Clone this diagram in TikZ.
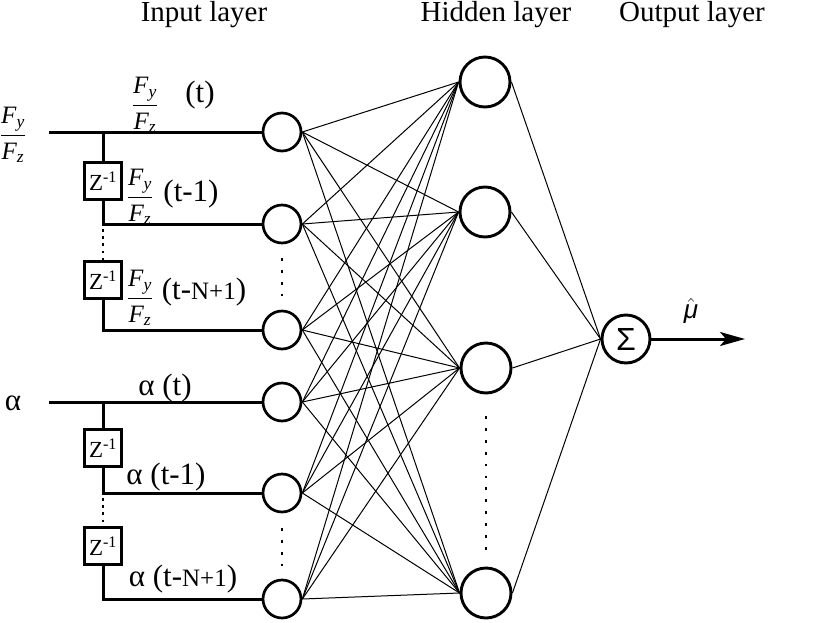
\RequirePackage{fix-cm}
\documentclass[tikz,border=0pt]{standalone}
\usepackage{fontspec}
\usepackage{amsmath}
\setmainfont{Liberation Serif}
\newfontfamily\sansf{Liberation Sans}
\usetikzlibrary{arrows.meta}
\newcommand{\fyfz}{$\genfrac{}{}{1.3pt}{0}{\text{\itshape F}_{\text{\itshape y}}}{\text{\itshape F}_{\text{\itshape z}}}$}
\begin{document}
\begin{tikzpicture}[x=1pt,y=-1pt,
  inp/.style={circle,draw,line width=2.7pt,minimum size=38pt,inner sep=0pt},
  hid/.style={circle,draw,line width=2.9pt,minimum size=50pt,inner sep=0pt},
  outn/.style={circle,draw,line width=2.9pt,minimum size=48pt,inner sep=0pt,font=\sansf\fontsize{32}{32}\selectfont},
  delay/.style={draw,line width=2.5pt,minimum size=37pt,inner sep=0pt,font=\fontsize{23}{23}\selectfont},
  wire/.style={line width=3pt,line join=miter},
  syn/.style={line width=1pt},
  dotl/.style={line width=2.8pt,dash pattern=on 2.8pt off 9.2pt},
  sdot/.style={line width=2.8pt,dash pattern=on 2.8pt off 4.4pt},
  head/.style={font=\fontsize{29}{29}\selectfont,inner sep=0pt},
  lab/.style={font=\fontsize{31}{31}\selectfont,inner sep=0pt},
  frac/.style={font=\fontsize{25}{25}\selectfont,inner sep=0pt},
]
\useasboundingbox (0,0) rectangle (831,622);
% headers
\node[head] (hin) at (204,15) {Input layer};
\node[head] (hhid) at (496,15) {Hidden layer};
\node[head] (hout) at (692,15) {Output layer};
% input nodes
\node[inp] (i1) at (282,132) {};
\node[inp] (i2) at (282,224) {};
\node[inp] (i3) at (282,330) {};
\node[inp] (i4) at (282,402) {};
\node[inp] (i5) at (282,493) {};
\node[inp] (i6) at (282,599) {};
% hidden nodes
\node[hid] (h1) at (485,82) {};
\node[hid] (h2) at (485,212) {};
\node[hid] (h3) at (486,368) {};
\node[hid] (h4) at (486,593) {};
% output
\node[outn] (o) at (626,339) {Σ};
\coordinate (oend) at (745,339);
\node[font=\fontsize{26}{26}\selectfont,inner sep=0pt] (mu) at (691,311) {$\hat{\text{\sansf\itshape μ}}$};
% synapses
\foreach \i in {1,...,6}
  \foreach \h in {1,...,4}
    \draw[syn] (i\i.east) -- (h\h.west);
\foreach \h in {1,...,4}
  \draw[syn] (h\h.east) -- (o.west);
\draw[wire,-{Stealth[length=25pt,width=14pt,inset=6pt]}] (o.east) -- (oend);
% dots
\coordinate (da1) at (282,258); \coordinate (da2) at (282,296);
\coordinate (db1) at (282,528); \coordinate (db2) at (282,566);
\coordinate (dh1) at (486,416); \coordinate (dh2) at (486,550);
\draw[dotl] (da1) -- (da2);
\draw[dotl] (db1) -- (db2);
\draw[dotl,dash pattern=on 2.8pt off 9.1pt] (dh1) -- (dh2);
% Fy/Fz branch
\node[frac] (lf) at (13,135) {\fyfz};
\coordinate (s1) at (49,132);
\coordinate (j1) at (103,132);
\node[delay] (z1) at (103,181) {Z\textsuperscript{-1}};
\coordinate (j2) at (103,224);
\node[delay] (z2) at (103,280) {Z\textsuperscript{-1}};
\coordinate (j3) at (103,330);
\draw[wire] (s1) -- (i1.west);
\draw[wire] (j1) -- (z1.north);
\draw[wire] (z1.south) -- (j2) -- (i2.west);
\draw[sdot] (j2) ++(0,5) coordinate (q1) (q1) -- (z2.north);
\draw[wire] (z2.south) -- (j3) -- (i3.west);
% alpha branch
\node[lab] (la) at (13,403) {α};
\coordinate (s2) at (49,402);
\coordinate (j4) at (103,402);
\node[delay] (z3) at (103,448) {Z\textsuperscript{-1}};
\coordinate (j5) at (103,493);
\node[delay] (z4) at (103,546) {Z\textsuperscript{-1}};
\coordinate (j6) at (103,599);
\draw[wire] (s2) -- (i4.west);
\draw[wire] (j4) -- (z3.north);
\draw[wire] (z3.south) -- (j5) -- (i5.west);
\draw[sdot] (j5) ++(0,5) coordinate (q2) (q2) -- (z4.north);
\draw[wire] (z4.south) -- (j6) -- (i6.west);
% signal labels
\node[frac] (f1) at (145,105) {\fyfz};
\node[lab] (t1) at (200,95) {(t)};
\node[frac] (f2) at (140,197) {\fyfz};
\node[lab] (t2) at (191,194) {(t-1)};
\node[frac] (f3) at (140,298) {\fyfz};
\node[lab] (t3) at (204,292) {(t-{\fontsize{25}{25}\selectfont N+1})};
\node[lab] (a1) at (165,388) {α (t)};
\node[lab] (a2) at (166,477) {α (t-1)};
\node[lab] (a3) at (183,579) {α (t-{\fontsize{25}{25}\selectfont N+1})};
\end{tikzpicture}
\end{document}
